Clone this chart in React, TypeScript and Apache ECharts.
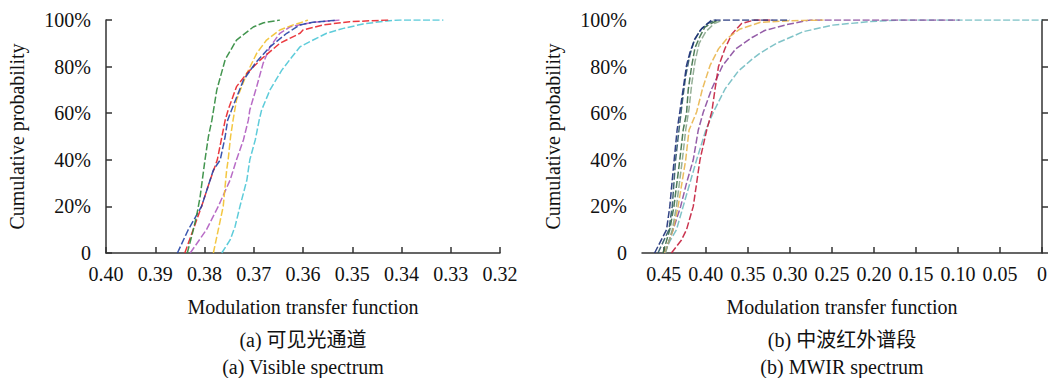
import React, { useEffect, useRef } from "react";
import * as echarts from "echarts";

// ---------- data ----------
// Each pair: [modulation transfer function, cumulative probability]
const probTicks = [0, 0.2, 0.4, 0.6, 0.8, 1];
const mwirTicks = [0, 0.05, 0.1, 0.15, 0.2, 0.25, 0.3, 0.35, 0.4, 0.45];

// (a) Visible spectrum
const visGreen = [[0.3835, 0], [0.3825, 0.08], [0.3816, 0.16], [0.3809, 0.24], [0.3799, 0.4], [0.3792, 0.5], [0.3785, 0.57], [0.3775, 0.7], [0.3758, 0.83], [0.3735, 0.914], [0.3701, 0.97], [0.368, 0.988], [0.3647, 1]];
const visBlue = [[0.3855, 0], [0.3833, 0.1], [0.3806, 0.2], [0.3782, 0.356], [0.3768, 0.4], [0.3758, 0.5], [0.3753, 0.57], [0.3745, 0.614], [0.3721, 0.742], [0.3697, 0.814], [0.3667, 0.885], [0.3633, 0.943], [0.3606, 0.979], [0.358, 0.99], [0.3545, 0.997], [0.3532, 1]];
const visRed = [[0.384, 0], [0.3823, 0.1], [0.3806, 0.2], [0.3789, 0.31], [0.3774, 0.4], [0.3758, 0.57], [0.3752, 0.614], [0.3735, 0.714], [0.3714, 0.771], [0.3687, 0.828], [0.3647, 0.9], [0.3606, 0.943], [0.36, 0.957], [0.3559, 0.979], [0.3505, 0.993], [0.3423, 1]];
const visYellow = [[0.3782, 0], [0.3772, 0.1], [0.3762, 0.2], [0.3755, 0.356], [0.3752, 0.4], [0.3747, 0.5], [0.3742, 0.57], [0.3735, 0.657], [0.3714, 0.771], [0.3694, 0.857], [0.3674, 0.914], [0.3647, 0.957], [0.362, 0.979], [0.3605, 0.988], [0.359, 1]];
const visPurple = [[0.3829, 0], [0.3796, 0.1], [0.3772, 0.2], [0.3748, 0.313], [0.3735, 0.4], [0.3721, 0.485], [0.3711, 0.57], [0.3708, 0.614], [0.3694, 0.714], [0.3681, 0.814], [0.3667, 0.885], [0.3647, 0.943], [0.3626, 0.971], [0.358, 0.99], [0.3525, 1]];
const visCyan = [[0.3765, 0], [0.3748, 0.056], [0.3738, 0.113], [0.3728, 0.2], [0.3714, 0.313], [0.3708, 0.4], [0.3697, 0.485], [0.3689, 0.57], [0.3684, 0.614], [0.3667, 0.7], [0.3643, 0.785], [0.3623, 0.84], [0.3606, 0.885], [0.3586, 0.907], [0.3552, 0.943], [0.3518, 0.964], [0.3478, 0.983], [0.3431, 0.996], [0.3403, 1], [0.3315, 1]];

// (b) MWIR spectrum
const irNavy = [[0.461, 0], [0.4468, 0.1], [0.4429, 0.2], [0.44, 0.313], [0.4377, 0.4], [0.4342, 0.528], [0.431, 0.605], [0.427, 0.705], [0.423, 0.805], [0.419, 0.86], [0.413, 0.92], [0.405, 0.963], [0.393, 1], [0.3, 1]];
const irTeal = [[0.457, 0], [0.444, 0.1], [0.44, 0.2], [0.436, 0.4], [0.432, 0.528], [0.428, 0.65], [0.424, 0.76], [0.419, 0.85], [0.414, 0.91], [0.407, 0.955], [0.398, 0.985], [0.388, 1]];
const irGreen = [[0.451, 0], [0.443, 0.1], [0.438, 0.2], [0.431, 0.4], [0.427, 0.528], [0.423, 0.6], [0.421, 0.7], [0.417, 0.8], [0.413, 0.88], [0.407, 0.93], [0.401, 0.97], [0.386, 1]];
const irSage = [[0.448, 0], [0.44, 0.1], [0.435, 0.2], [0.428, 0.4], [0.424, 0.528], [0.42, 0.62], [0.417, 0.72], [0.413, 0.82], [0.408, 0.9], [0.4, 0.95], [0.39, 0.985], [0.38, 1]];
const irGold = [[0.449, 0], [0.439, 0.1], [0.433, 0.2], [0.424, 0.4], [0.42, 0.528], [0.411, 0.605], [0.404, 0.705], [0.395, 0.805], [0.385, 0.876], [0.375, 0.92], [0.36, 0.96], [0.335, 0.99], [0.3, 0.997], [0.26, 1]];
const irPurple = [[0.449, 0], [0.439, 0.1], [0.43, 0.2], [0.423, 0.3], [0.415, 0.4], [0.409, 0.528], [0.403, 0.605], [0.393, 0.705], [0.38, 0.805], [0.3645, 0.876], [0.345, 0.925], [0.33, 0.955], [0.304, 0.98], [0.276, 1], [0.098, 1]];
const irCrimson = [[0.441, 0], [0.429, 0.056], [0.423, 0.1], [0.415, 0.2], [0.411, 0.3], [0.407, 0.4], [0.399, 0.528], [0.393, 0.605], [0.389, 0.705], [0.385, 0.8], [0.377, 0.88], [0.369, 0.94], [0.3575, 0.985], [0.342, 1], [0.32, 1]];
const irCyan = [[0.449, 0], [0.443, 0.05], [0.435, 0.1], [0.427, 0.2], [0.419, 0.3], [0.411, 0.4], [0.4, 0.528], [0.391, 0.605], [0.377, 0.705], [0.3615, 0.78], [0.3456, 0.83], [0.3357, 0.857], [0.316, 0.9], [0.284, 0.95], [0.249, 0.978], [0.205, 0.993], [0.169, 1], [0, 1]];

const visSeries = [
  { data: visCyan, color: "#4cc6d6" },
  { data: visPurple, color: "#b05cc0" },
  { data: visYellow, color: "#f2c12e" },
  { data: visRed, color: "#e8242a" },
  { data: visBlue, color: "#2544a6" },
  { data: visGreen, color: "#2f8a3c" },
];
const irSeries = [
  { data: irCyan, color: "#72bcc2" },
  { data: irPurple, color: "#8a4c9e" },
  { data: irCrimson, color: "#c41e3c" },
  { data: irGold, color: "#e9b64e" },
  { data: irSage, color: "#8aa68c" },
  { data: irGreen, color: "#3b6e46" },
  { data: irTeal, color: "#2d5866" },
  { data: irNavy, color: "#1c2f78" },
];

const FONT = "'Liberation Serif', 'Times New Roman', 'Noto Sans CJK SC', serif";
const FS = 20;
const AXIS_COLOR = "#333";

function pctLabel(v: number) {
  return v === 0 ? "0" : Math.round(v * 100) + "%";
}

function yAxisCfg(gridIndex: number) {
  return {
    type: "value",
    gridIndex,
    min: probTicks[0],
    max: probTicks[probTicks.length - 1],
    interval: 0.2,
    name: "Cumulative probability",
    nameLocation: "middle",
    nameGap: 79,
    nameTextStyle: { fontFamily: FONT, fontSize: FS, color: "#111" },
    axisLine: { show: true, lineStyle: { color: AXIS_COLOR, width: 1.5 } },
    axisTick: { show: true, inside: true, length: 6, lineStyle: { color: AXIS_COLOR, width: 1.5 } },
    axisLabel: { fontFamily: FONT, fontSize: FS, color: "#111", margin: 15, formatter: pctLabel },
    splitLine: { show: false },
  };
}

function lineSeries(s: { data: number[][]; color: string }, idx: number) {
  return {
    type: "line",
    xAxisIndex: idx,
    yAxisIndex: idx,
    data: s.data,
    symbol: "none",
    silent: true,
    lineStyle: { color: s.color, width: 1.5, type: [7, 2.5], opacity: 0.9 },
    emphasis: { disabled: true },
  };
}

const option = {
  animation: false,
  backgroundColor: "#fff",
  grid: [
    { left: 106, top: 20, width: 394, height: 233 },
    { left: 642, top: 20, width: 400, height: 233 },
  ],
  xAxis: [
    {
      type: "value",
      gridIndex: 0,
      inverse: true,
      min: 0.32,
      max: 0.4,
      interval: 0.01,
      name: "Modulation transfer function",
      nameLocation: "middle",
      nameGap: 44,
      nameTextStyle: { fontFamily: FONT, fontSize: FS, color: "#111" },
      axisLine: { show: true, lineStyle: { color: AXIS_COLOR, width: 1.5 } },
      axisTick: { show: true, inside: true, length: 6, lineStyle: { color: AXIS_COLOR, width: 1.5 } },
      axisLabel: { fontFamily: FONT, fontSize: FS, color: "#111", margin: 11, formatter: (v: number) => v.toFixed(2) },
      splitLine: { show: false },
    },
    {
      type: "value",
      gridIndex: 1,
      inverse: true,
      min: 0,
      max: 0.476,
      name: "Modulation transfer function",
      nameLocation: "middle",
      nameGap: 44,
      nameTextStyle: { fontFamily: FONT, fontSize: FS, color: "#111" },
      axisLine: { show: true, lineStyle: { color: AXIS_COLOR, width: 1.5 } },
      axisTick: { show: true, inside: true, length: 6, customValues: mwirTicks, lineStyle: { color: AXIS_COLOR, width: 1.5 } },
      axisLabel: {
        fontFamily: FONT,
        fontSize: FS,
        color: "#111",
        margin: 11,
        customValues: mwirTicks,
        formatter: (v: number) => (Math.abs(v) < 1e-9 ? "0" : v.toFixed(2)),
      },
      splitLine: { show: false },
    },
  ],
  yAxis: [yAxisCfg(0), yAxisCfg(1)],
  series: [
    ...visSeries.map((s) => lineSeries(s, 0)),
    ...irSeries.map((s) => lineSeries(s, 1)),
  ],
  graphic: [
    { type: "text", silent: true, style: { text: "(a) 可见光通道", x: 303, y: 340, align: "center", verticalAlign: "middle", fontFamily: FONT, fontSize: FS, fill: "#111" } },
    { type: "text", silent: true, style: { text: "(a) Visible spectrum", x: 303, y: 367, align: "center", verticalAlign: "middle", fontFamily: FONT, fontSize: FS, fill: "#111" } },
    { type: "text", silent: true, style: { text: "(b) 中波红外谱段", x: 842, y: 340, align: "center", verticalAlign: "middle", fontFamily: FONT, fontSize: FS, fill: "#111" } },
    { type: "text", silent: true, style: { text: "(b) MWIR spectrum", x: 842, y: 367, align: "center", verticalAlign: "middle", fontFamily: FONT, fontSize: FS, fill: "#111" } },
  ],
};

export default function App() {
  const ref = useRef<HTMLDivElement>(null);
  useEffect(() => {
    document.body.style.margin = "0";
    const chart = echarts.init(ref.current as HTMLDivElement, null, { renderer: "svg" });
    chart.setOption(option as any);
    return () => chart.dispose();
  }, []);
  return <div ref={ref} style={{ width: 1050, height: 378 }} />;
}
